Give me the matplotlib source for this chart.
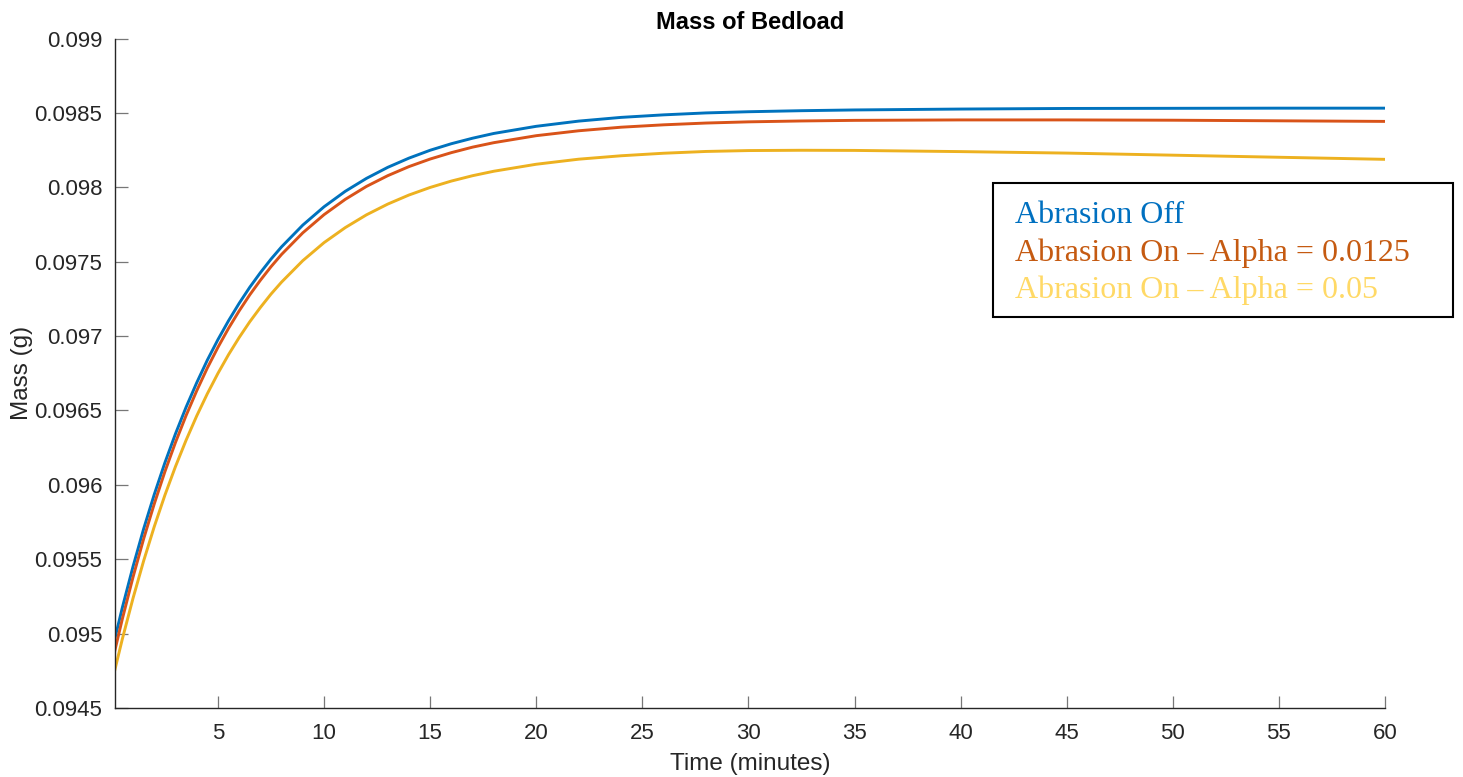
import matplotlib
matplotlib.use('Agg')
import matplotlib.pyplot as plt
from matplotlib.patches import Rectangle

# time (minutes)
t = [0.15, 0.5, 1, 1.5, 2, 2.5, 3, 3.5, 4, 4.5, 5, 5.5, 6, 6.5, 7, 7.5, 8,
     9, 10, 11, 12, 13, 14, 15, 16, 17, 18, 20, 22, 24, 26, 28, 30, 32.5, 35,
     40, 45, 50, 55, 60]

# mass of bedload (g)
abrasion_off = [0.094970, 0.095177, 0.095451, 0.095704, 0.095935, 0.096148, 0.096343,
                0.096522, 0.096686, 0.096838, 0.096976, 0.097103, 0.097220, 0.097328,
                0.097426, 0.097517, 0.097600, 0.097746, 0.097869, 0.097973, 0.098060,
                0.098134, 0.098196, 0.098249, 0.098293, 0.098330, 0.098362, 0.098410,
                0.098445, 0.098470, 0.098487, 0.098500, 0.098508, 0.098515, 0.098520,
                0.098526, 0.098530, 0.098531, 0.098532, 0.098532]
alpha_0125 = [0.094890, 0.095101, 0.095380, 0.095637, 0.095872, 0.096088, 0.096285,
              0.096466, 0.096632, 0.096785, 0.096924, 0.097052, 0.097169, 0.097277,
              0.097375, 0.097466, 0.097549, 0.097694, 0.097816, 0.097919, 0.098006,
              0.098078, 0.098139, 0.098190, 0.098233, 0.098270, 0.098300, 0.098347,
              0.098380, 0.098404, 0.098420, 0.098432, 0.098440, 0.098446, 0.098450,
              0.098453, 0.098453, 0.098451, 0.098447, 0.098443]
alpha_05 = [0.094760, 0.094966, 0.095238, 0.095489, 0.095719, 0.095930, 0.096123,
            0.096300, 0.096463, 0.096612, 0.096749, 0.096875, 0.096990, 0.097096,
            0.097192, 0.097282, 0.097363, 0.097507, 0.097628, 0.097729, 0.097815,
            0.097887, 0.097948, 0.097999, 0.098042, 0.098078, 0.098108, 0.098155,
            0.098189, 0.098212, 0.098229, 0.098241, 0.098247, 0.098249, 0.098248,
            0.098240, 0.098230, 0.098216, 0.098202, 0.098188]

legend_labels = ['Abrasion Off', 'Abrasion On \u2013 Alpha = 0.0125',
                 'Abrasion On \u2013 Alpha = 0.05']

yticks = [0.0945, 0.095, 0.0955, 0.096, 0.0965, 0.097, 0.0975, 0.098, 0.0985, 0.099]
ytick_labels = ['0.0945', '0.095', '0.0955', '0.096', '0.0965', '0.097', '0.0975',
                '0.098', '0.0985', '0.099']
xticks = [5, 10, 15, 20, 25, 30, 35, 40, 45, 50, 55, 60]

plt.rcParams['font.family'] = ['Liberation Sans', 'DejaVu Sans']

fig = plt.figure(figsize=(14.63, 7.77), dpi=100)
ax = fig.add_axes([0.0786, 0.0888, 0.8681, 0.8616])

ax.plot(t, abrasion_off, color='#0072BD', lw=2.1)
ax.plot(t, alpha_0125, color='#D95319', lw=2.1)
ax.plot(t, alpha_05, color='#EDB120', lw=2.1)

ax.set_xlim(0.15, 60)
ax.set_ylim(0.0945, 0.099)
ax.set_xticks(xticks)
ax.set_xticklabels([str(v) for v in xticks])
ax.set_yticks(yticks)
ax.set_yticklabels(ytick_labels)

ax.spines['top'].set_visible(False)
ax.spines['right'].set_visible(False)
for s in ['left', 'bottom']:
    ax.spines[s].set_color('#262626')
    ax.spines[s].set_linewidth(1.0)
ax.tick_params(direction='in', length=9, width=0.9, color='#777777',
               labelcolor='#262626', labelsize=16)
ax.tick_params(axis='x', pad=11)
ax.tick_params(axis='y', pad=9)

ax.set_xlabel('Time (minutes)', fontsize=17.5, color='#262626', labelpad=6)
ax.set_ylabel('Mass (g)', fontsize=17.5, color='#262626', labelpad=1)
ax.set_title('Mass of Bedload', fontsize=17, fontweight='bold', pad=7)

# text-only legend box
fig.patches.append(Rectangle((0.6787, 0.592), 0.3144, 0.1725, transform=fig.transFigure,
                             facecolor='white', edgecolor='black', lw=1.5))
legend_colors = ['#0070C0', '#C55A11', '#FFD966']
legend_y = [0.7225, 0.6745, 0.6260]
for lab, c, yy in zip(legend_labels, legend_colors, legend_y):
    fig.text(0.6935, yy, lab, color=c, fontsize=23, va='center', ha='left',
             family=['Liberation Serif', 'DejaVu Serif'])

fig.savefig('out.png', dpi=100)
